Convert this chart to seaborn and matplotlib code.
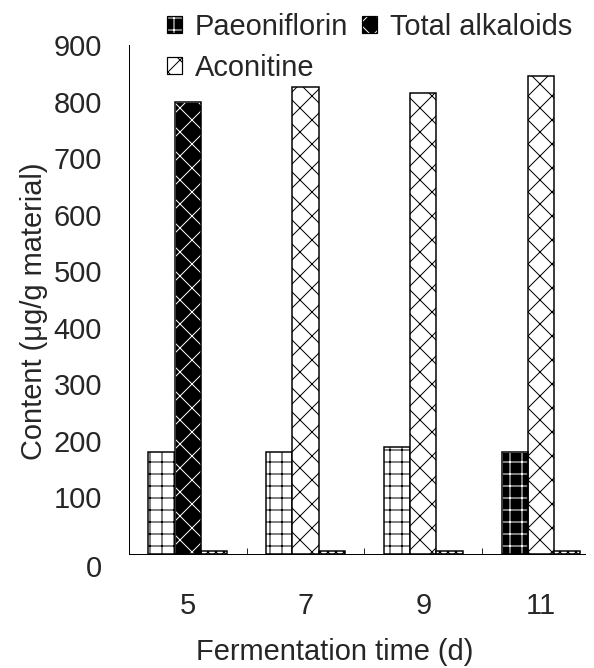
import pandas as pd
import seaborn as sns
import matplotlib
matplotlib.use('Agg')
import matplotlib.pyplot as plt
from matplotlib.patches import Patch, Rectangle
from matplotlib.transforms import ScaledTranslation

# valores
dias = ["5", "7", "9", "11"]
componentes = ["Paeoniflorin", "Total alkaloids", "Aconitine"]
paeoniflorin = [180, 180, 190, 180]
alcaloides = [800, 825, 815, 845]
aconitina = [6, 5, 5, 5]

# barras destacadas (fundo preto)
destaque = [("Total alkaloids", "5"), ("Paeoniflorin", "11")]
hachuras = {"Paeoniflorin": "+", "Total alkaloids": "x", "Aconitine": "xxx"}

df = pd.DataFrame({
    "dia": dias * 3,
    "componente": [c for c in componentes for _ in dias],
    "conteudo": paeoniflorin + alcaloides + aconitina,
})

sns.set_style("white")
plt.rcParams['font.family'] = ['Liberation Sans', 'DejaVu Sans']
plt.rcParams['hatch.linewidth'] = 1.0

fig = plt.figure(figsize=(594 / 72, 668 / 72), dpi=72)
ax = fig.add_axes([0.2172, 0.1707, 0.7677, 0.7620])

sns.barplot(data=df, x="dia", y="conteudo", hue="componente",
            order=dias, hue_order=componentes, width=0.67,
            palette=["white"] * 3, edgecolor="black", linewidth=1.5,
            errorbar=None, legend=False, ax=ax)

for comp, cont in zip(componentes, ax.containers):
    for dia, barra in zip(dias, cont):
        barra.set_hatch(hachuras[comp])
        if (comp, dia) in destaque:
            barra.set_facecolor("black")
            barra.set_edgecolor("white")
            barra.set_linewidth(0.8)
            ax.add_patch(Rectangle(barra.get_xy(), barra.get_width(), barra.get_height(),
                                   fill=False, edgecolor="black", linewidth=1.5, zorder=3))

ax.set_ylim(0, 900)
ax.set_yticks(range(0, 901, 100))
ax.set_xlim(-0.5, 3.374)
ax.set_xticks([0.5, 1.5, 2.5], minor=True)

for lado in ["top", "right"]:
    ax.spines[lado].set_visible(False)
for lado in ["left", "bottom"]:
    ax.spines[lado].set_linewidth(1.0)
    ax.spines[lado].set_color("black")

ax.tick_params(axis="y", which="major", direction="in", length=8, width=1, pad=27, labelsize=29)
ax.tick_params(axis="x", which="major", length=0, pad=38, labelsize=29)
ax.tick_params(axis="x", which="minor", direction="in", length=6, width=1, bottom=True)

# o "0" aparece um pouco abaixo da linha de base
rotulo0 = ax.get_yticklabels()[0]
rotulo0.set_transform(rotulo0.get_transform() + ScaledTranslation(0, -12 / 72, fig.dpi_scale_trans))

ax.set_xlabel("Fermentation time (d)", fontsize=29, labelpad=18)
ax.set_ylabel("Content (μg/g material)", fontsize=29, labelpad=6)
ax.xaxis.label.set_x(0.452)
ax.yaxis.label.set_y(0.477)

# ordem por coluna para ficar: Paeoniflorin, Total alkaloids / Aconitine
contorno = Patch(facecolor="none", edgecolor="black", linewidth=1.2)
alcas = {
    "Paeoniflorin": (Patch(facecolor="black", edgecolor="white", hatch="+", linewidth=0.8), contorno),
    "Total alkaloids": (Patch(facecolor="black", edgecolor="white", hatch="x", linewidth=0.8), contorno),
    "Aconitine": Patch(facecolor="white", edgecolor="black", hatch="x", linewidth=1.2),
}
ordem = ["Paeoniflorin", "Aconitine", "Total alkaloids"]
fig.legend([alcas[k] for k in ordem], ordem, loc="upper left",
           bbox_to_anchor=(167 / 594, 1 - 13 / 668),
           bbox_transform=fig.transFigure, ncol=2, frameon=False, fontsize=29,
           handlelength=0.5, handleheight=0.5, handletextpad=0.45, columnspacing=0.5,
           labelspacing=0.45, borderpad=0, borderaxespad=0)

fig.savefig("out.png", dpi=72)
